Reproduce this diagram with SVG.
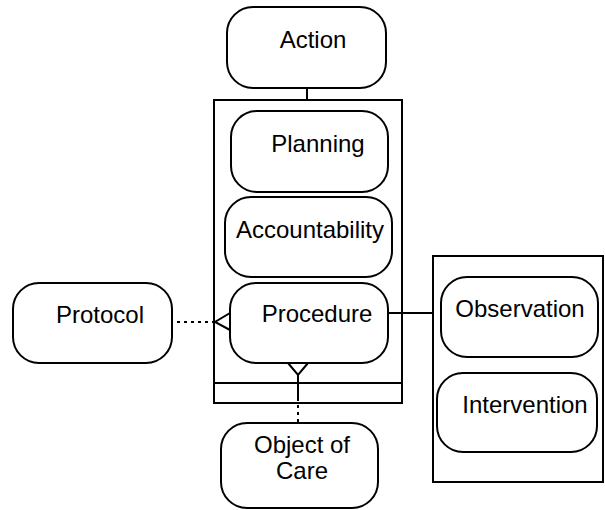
<svg xmlns="http://www.w3.org/2000/svg" width="605" height="510" viewBox="0 0 605 510">
<style>
.n{fill:#fff;stroke:#000;stroke-width:2}
.c{fill:none;stroke:#000;stroke-width:2}
.d{fill:none;stroke:#000;stroke-width:2;stroke-dasharray:3 4}
text{font-family:"Liberation Sans",Arial,sans-serif;font-size:24px;fill:#000;text-anchor:middle}
</style>
<rect width="605" height="510" fill="#fff"/>
<g id="container-procedure"><rect x="214" y="100" width="188" height="303" class="c"/><line x1="214" y1="383" x2="402" y2="383" class="c"/></g>
<g id="container-right"><rect x="433" y="256" width="170" height="226" class="c"/></g>
<g id="connectors">
<line x1="307" y1="88" x2="307" y2="100" class="c"/>
<line x1="388" y1="313" x2="433" y2="313" class="c"/>
<line x1="177" y1="322" x2="214" y2="322" class="d"/>
<polyline points="230,313 215,322 230,330" class="c"/>
<polyline points="288,363 298,375 308,363" class="c"/>
<line x1="298" y1="375" x2="298" y2="398" class="c"/>
<line x1="298" y1="398" x2="298" y2="423" class="d"/>
</g>
<g id="action"><rect x="227" y="7" width="159" height="81" rx="26" class="n"/><text x="313" y="48">Action</text></g>
<g id="planning"><rect x="231" y="111" width="157" height="81" rx="26" class="n"/><text x="318" y="152">Planning</text></g>
<g id="accountability"><rect x="225" y="197" width="167" height="80" rx="26" class="n"/><text x="310" y="238">Accountability</text></g>
<g id="procedure"><rect x="230" y="283" width="158" height="80" rx="26" class="n"/><text x="317" y="322">Procedure</text></g>
<g id="protocol"><rect x="13" y="283" width="159" height="80" rx="26" class="n"/><text x="100" y="323">Protocol</text></g>
<g id="observation"><rect x="441" y="277" width="157" height="80" rx="26" class="n"/><text x="520" y="317">Observation</text></g>
<g id="intervention"><rect x="437" y="373" width="160" height="79" rx="26" class="n"/><text x="525" y="413">Intervention</text></g>
<g id="object-of-care"><rect x="221" y="423" width="157" height="85" rx="26" class="n"/><text x="302" y="453">Object of</text><text x="302" y="479">Care</text></g>
</svg>
